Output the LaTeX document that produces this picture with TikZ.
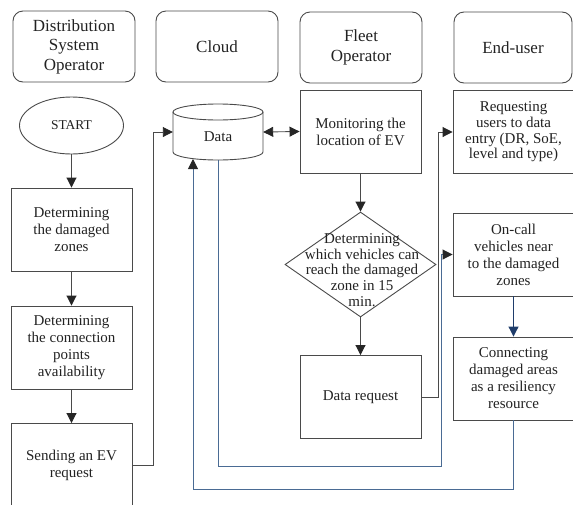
\documentclass[tikz,border=0pt]{standalone}
\usepackage{fontspec}
\setmainfont{Liberation Serif}
\usetikzlibrary{arrows.meta,shapes.geometric}
\definecolor{linec}{HTML}{4A4A4A}
\definecolor{txtc}{HTML}{222222}
\definecolor{flowblue}{HTML}{4A6B94}
\definecolor{darkblue}{HTML}{1F3D6B}

\begin{document}
\begin{tikzpicture}[x=1pt,y=-1pt,
  hdr/.style={draw=linec, line width=0.9pt, rounded corners=10pt,
    minimum width=122pt, minimum height=71pt, align=center, inner sep=0pt,
    text=txtc, font=\fontsize{17}{19.5}\selectfont},
  box/.style={draw=linec, line width=0.9pt, minimum width=121pt,
    minimum height=83pt, align=center, inner sep=0pt,
    text=txtc, font=\fontsize{15}{17}\selectfont},
  tight/.style={font=\fontsize{15}{15.7}\selectfont},
  tip/.style={-{Triangle[length=10pt,width=10pt,color=#1]}},
  flow/.style={draw=linec, line width=0.9pt, tip=black!85},
  bflow/.style={draw=flowblue, line width=0.9pt, tip=black!85},
  dbflow/.style={draw=darkblue, line width=1pt, tip=darkblue},
  dflow/.style={draw=linec, line width=0.9pt,
    {Triangle[length=10pt,width=10pt,color=black!85]}-{Triangle[length=10pt,width=10pt,color=black!85]}},
]
\useasboundingbox (0,0) rectangle (573,504);

% column headers
\node[hdr] (hdso)   at (74,46.5)  {Distribution\\System\\Operator};
\node[hdr] (hcloud) at (217,46.5) {Cloud};
\node[hdr] (hfleet) at (361,47.5) {Fleet\\Operator};
\node[hdr, minimum width=118pt] (huser) at (513,47.5) {End-user};

% distribution system operator column
\node[ellipse, draw=linec, line width=0.9pt, minimum width=104pt,
  minimum height=57pt, inner sep=0pt, text=txtc,
  font=\fontsize{13.5}{16}\selectfont] (start) at (71.5,125.5) {START};
\node[box] (det1) at (71.5,229.5) {Determining\\the damaged\\zones};
\node[box] (det2) at (71.5,347.5) {Determining\\the connection\\points\\availability};
\node[box] (send) at (71.5,465) {Sending an EV\\request};

% cloud storage
\node[minimum width=90pt, minimum height=56pt, inner sep=0pt] (data) at (218,132) {};
\draw[linec, line width=0.9pt, fill=white] (218,112) ellipse [x radius=45pt, y radius=8pt];
\draw[linec, line width=0.9pt] (173,112) -- (173,152)
  arc[start angle=180, end angle=360, x radius=45pt, y radius=8pt] -- (263,112);
\node[text=txtc, font=\fontsize{15}{17}\selectfont] (datalabel) at (218,136.5) {Data};
\coordinate (datain) at (193,159);

% fleet operator column
\node[box] (mon) at (360.5,131.5) {Monitoring the\\location of EV};
\node[diamond, draw=linec, line width=0.9pt, minimum width=151pt,
  minimum height=105pt, inner sep=0pt] (dia) at (360.5,264.5) {};
\node[tight, align=center, text=txtc] (diatext) at (362,270)
  {Determining\\which vehicles can\\reach the damaged\\zone in 15\\min.};
\node[box] (dreq) at (360.5,397) {Data request};

% end-user column
\node[box, tight] (req) at (513.5,132) {Requesting\\users to data\\entry (DR, SoE,\\level and type)};
\node[box] (oncall) at (513.5,254.5) {On-call\\vehicles near\\to the damaged\\zones};
\node[box] (conn) at (513.5,378.5) {Connecting\\damaged areas\\as a resiliency\\resource};

% routing points
\coordinate (j1) at (441,466);
\coordinate (j2) at (193,489);

% connectors
\draw[flow] (start.south) -- (det1.north);
\draw[flow] (det1.south) -- (det2.north);
\draw[flow] (det2.south) -- (send.north);
\draw[flow] (send.east) -- ++(21,0) |- (data.west);
\draw[dflow] (data.east) -- (mon.west);
\draw[flow] (mon.south) -- (dia.north);
\draw[flow] (dia.south) -- (dreq.north);
\draw[flow] (dreq.east) -- ++(17,0) |- (req.west);
\draw[bflow] (data.south) |- (j1) |- (oncall.west);
\draw[dbflow] (oncall.south) -- (conn.north);
\draw[bflow] (conn.south) |- (j2) -- (datain);
\end{tikzpicture}
\end{document}
